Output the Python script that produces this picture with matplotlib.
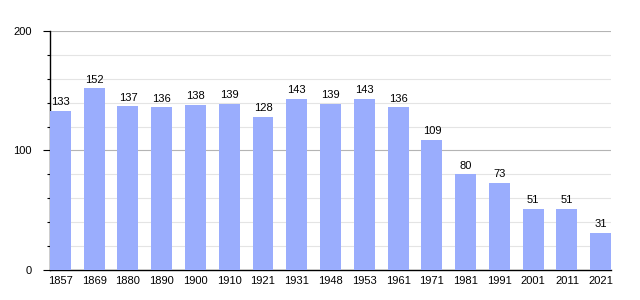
import numpy as np
import matplotlib.pyplot as plt
from matplotlib.ticker import MultipleLocator

years = ['1857', '1869', '1880', '1890', '1900', '1910', '1921', '1931', '1948',
         '1953', '1961', '1971', '1981', '1991', '2001', '2011', '2021']
population = [133, 152, 137, 136, 138, 139, 128, 143, 139, 143, 136, 109, 80, 73, 51, 51, 31]

plt.rcParams['font.family'] = ['Liberation Sans', 'DejaVu Sans']

fig = plt.figure(figsize=(6.4, 3), dpi=100)
ax = fig.add_axes([0.078, 0.1, 0.877, 0.797])

x = np.arange(len(years))
w = 0.62
ax.bar(x, population, width=w, color='#9aadfd', zorder=3)
for xi, v in zip(x, population):
    ax.text(xi, v + 3, str(v), ha='center', va='bottom', fontsize=8, zorder=4)

ax.set_xlim(-w / 2, len(years) - 1 + w / 2)
ax.set_ylim(0, 200)
ax.set_xticks(x)
ax.set_xticklabels(years, fontsize=8)
ax.set_yticks([0, 100, 200])
ax.set_yticklabels(['0', '100', '200'], fontsize=8)
ax.yaxis.set_minor_locator(MultipleLocator(20))
ax.tick_params(axis='x', length=0, pad=4)
ax.tick_params(axis='y', which='major', length=5, width=0.8, pad=8)
ax.tick_params(axis='y', which='minor', length=2, width=0.8)
ax.grid(axis='y', which='major', color='#b4b4b4', linewidth=0.8, zorder=0)
ax.grid(axis='y', which='minor', color='#e4e4e4', linewidth=0.8, zorder=0)
for s in ['top', 'right']:
    ax.spines[s].set_visible(False)
ax.spines['left'].set_linewidth(1)
ax.spines['bottom'].set_linewidth(1)

fig.savefig('out.png')
